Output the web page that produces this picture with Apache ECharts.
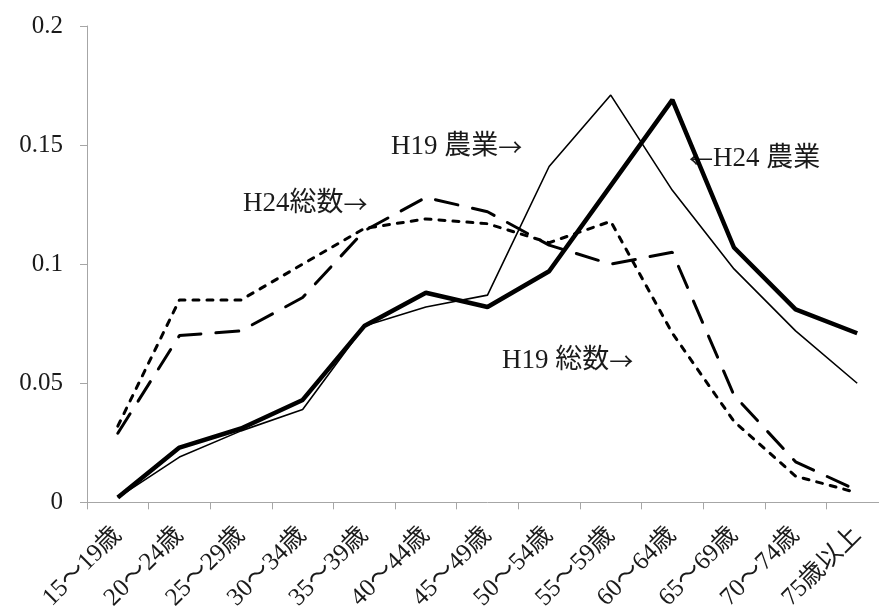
<!DOCTYPE html>
<html>
<head>
<meta charset="utf-8">
<script src="https://cdn.jsdelivr.net/npm/echarts@6/dist/echarts.min.js"></script>
<style>
html,body{margin:0;padding:0;background:#fff;overflow:hidden;}
#chart{width:900px;height:613px;}
</style>
</head>
<body>
<div id="chart"></div>
<script>
const categories = ['15～19歳','20～24歳','25～29歳','30～34歳','35～39歳','40～44歳','45～49歳','50～54歳','55～59歳','60～64歳','65～69歳','70～74歳','75歳以上'];
const h19Farm  = [0.002, 0.019, 0.030, 0.039, 0.074, 0.082, 0.087, 0.141, 0.171, 0.131, 0.098, 0.072, 0.050];
const h24Farm  = [0.002, 0.023, 0.031, 0.043, 0.074, 0.088, 0.082, 0.097, 0.133, 0.169, 0.107, 0.081, 0.071];
const h19Total = [0.032, 0.085, 0.085, 0.100, 0.115, 0.119, 0.117, 0.109, 0.118, 0.071, 0.034, 0.011, 0.004];
const h24Total = [0.029, 0.070, 0.072, 0.086, 0.114, 0.128, 0.122, 0.108, 0.100, 0.105, 0.045, 0.017, 0.005];
const yTicks = { min: 0, max: 0.2, interval: 0.05 };
const annotations = [
  { label: 'H19 農業', arrow: '→', arrowFirst: false, x: 391, y: 147 },
  { label: 'H24 農業', arrow: '←', arrowFirst: true,  x: 689, y: 159 },
  { label: 'H24総数',  arrow: '→', arrowFirst: false, x: 243, y: 204 },
  { label: 'H19 総数', arrow: '→', arrowFirst: false, x: 502, y: 361 }
];

const FONT = '"Liberation Serif", "Noto Sans CJK JP", serif';
const CJK = '"Noto Sans CJK JP", sans-serif';
const chart = echarts.init(document.getElementById('chart'));
chart.setOption({
  animation: false,
  backgroundColor: '#ffffff',
  grid: { left: 87, top: 26, width: 801, height: 477.5 },
  xAxis: {
    type: 'category',
    data: categories,
    boundaryGap: true,
    axisLine: { lineStyle: { color: '#a6a6a6', width: 1 } },
    axisTick: { show: true, length: 7, lineStyle: { color: '#a6a6a6' } },
    axisLabel: { rotate: 45, margin: 29, fontSize: 25, fontFamily: FONT, color: '#1a1a1a', interval: 0 },
    splitLine: { show: false }
  },
  yAxis: {
    type: 'value',
    min: yTicks.min, max: yTicks.max, interval: yTicks.interval,
    axisLine: { show: true, lineStyle: { color: '#a6a6a6', width: 1 } },
    axisTick: { show: true, length: 7, lineStyle: { color: '#a6a6a6' } },
    axisLabel: { margin: 24, fontSize: 25, fontFamily: FONT, color: '#1a1a1a' },
    splitLine: { show: false }
  },
  series: [
    { name: 'H19 農業', type: 'line', data: h19Farm, showSymbol: false, lineStyle: { color: '#000', width: 1.6 } },
    { name: 'H24 農業', type: 'line', data: h24Farm, showSymbol: false, lineStyle: { color: '#000', width: 4.5 } },
    { name: 'H19 総数', type: 'line', data: h19Total, showSymbol: false, lineStyle: { color: '#000', width: 3, type: [6, 8], cap: 'round' } },
    { name: 'H24 総数', type: 'line', data: h24Total, showSymbol: false, lineStyle: { color: '#000', width: 3, type: [23, 15], cap: 'round' } }
  ],
  graphic: annotations.map(a => ({
    type: 'text', x: a.x, y: a.y,
    style: {
      text: a.arrowFirst ? '{r|' + a.arrow + '}{t|' + a.label + '}' : '{t|' + a.label + '}{r|' + a.arrow + '}',
      fill: '#1a1a1a', verticalAlign: 'middle',
      rich: {
        t: { fontSize: 27, fontFamily: FONT, color: '#1a1a1a' },
        r: { fontSize: 24, fontFamily: CJK, color: '#1a1a1a' }
      }
    }
  }))
});
</script>
</body>
</html>
